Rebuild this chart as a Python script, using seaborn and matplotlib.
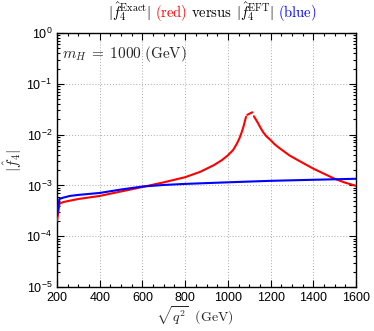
import matplotlib
matplotlib.use("Agg")
import matplotlib.pyplot as plt
import matplotlib.ticker as mticker
import numpy as np
import seaborn as sns

# EFT curve (blue)
eft_q = [200, 205, 211, 230, 260, 300, 400, 500, 600, 700, 800, 900,
         1000, 1100, 1200, 1300, 1400, 1500, 1600]
eft_f = [2.5e-4, 3.5e-4, 5.4e-4, 5.75e-4, 6.2e-4, 6.5e-4, 7.1e-4, 8.3e-4,
         9.5e-4, 1.02e-3, 1.07e-3, 1.11e-3, 1.15e-3, 1.19e-3, 1.23e-3,
         1.26e-3, 1.29e-3, 1.32e-3, 1.35e-3]

# exact curve (red), three pieces around the resonance
exact_q1 = [200, 205, 212, 230, 260, 300, 400, 500, 600, 700, 800, 872,
            934, 970, 1000, 1025, 1042, 1055, 1065, 1072, 1077, 1085]
exact_f1 = [2.0e-4, 2.8e-4, 4.4e-4, 4.7e-4, 5.0e-4, 5.4e-4, 6.2e-4, 7.6e-4,
            9.3e-4, 1.15e-3, 1.45e-3, 1.86e-3, 2.5e-3, 3.1e-3, 3.9e-3,
            5.0e-3, 6.6e-3, 8.6e-3, 1.12e-2, 1.38e-2, 1.66e-2, 2.24e-2]
exact_q2 = [1091, 1103, 1115]
exact_f2 = [2.45e-2, 2.6e-2, 2.75e-2]
exact_q3 = [1122, 1132, 1142, 1152, 1165, 1180, 1200, 1220, 1242, 1265,
            1288, 1330, 1400, 1450, 1500, 1550, 1600]
exact_f3 = [2.3e-2, 1.95e-2, 1.66e-2, 1.38e-2, 1.12e-2, 9.3e-3, 7.8e-3,
            6.4e-3, 5.4e-3, 4.6e-3, 3.9e-3, 3.1e-3, 2.14e-3, 1.7e-3,
            1.35e-3, 1.13e-3, 9.8e-4]

sns.set_style("ticks")
plt.rcParams["font.family"] = ["Liberation Sans", "DejaVu Sans"]
plt.rcParams["mathtext.fontset"] = "cm"

fig = plt.figure(figsize=(3.74, 3.31), dpi=100)
ax = fig.add_axes([57 / 374, 1 - 287 / 331, 299 / 374, 254 / 331])

red = "#ff0000"
blue = "#0000ff"
for q, f in [(exact_q1, exact_f1), (exact_q2, exact_f2), (exact_q3, exact_f3)]:
    sns.lineplot(x=q, y=f, ax=ax, color=red, linewidth=1.5, zorder=3)
sns.lineplot(x=eft_q, y=eft_f, ax=ax, color=blue, linewidth=1.5, zorder=4)

ax.set_yscale("log")
ax.set_xlim(200, 1600)
ax.set_ylim(1e-5, 1)
ax.xaxis.set_major_locator(mticker.MultipleLocator(200))
ax.xaxis.set_minor_locator(mticker.MultipleLocator(50))
ax.yaxis.set_major_locator(mticker.LogLocator(base=10, numticks=10))
ax.yaxis.set_minor_locator(mticker.LogLocator(base=10, subs=np.arange(2, 10), numticks=10))
ax.yaxis.set_minor_formatter(mticker.NullFormatter())
ax.yaxis.set_major_formatter(mticker.FuncFormatter(
    lambda v, p: r"$\mathregular{10^{%d}}$" % int(round(np.log10(v)))))
ax.tick_params(which="both", direction="in", top=True, right=True,
               labelsize=9, colors="black", width=0.8)
ax.tick_params(which="major", length=5)
ax.tick_params(which="minor", length=2.5)
ax.grid(True, which="major", linestyle=(0, (1, 2)), color="#aaaaaa", linewidth=0.7)
for s in ax.spines.values():
    s.set_linewidth(1.0)
    s.set_color("black")

ax.set_xlabel(r"$\sqrt{q^2}\ \ {\rm (GeV)}$", fontsize=10)
ax.xaxis.set_label_coords((195 - 57) / 299, -17 / 254)
ax.set_ylabel(r"$|\hat{f}_4|$", fontsize=11, labelpad=2)
ax.text(0.017, 0.955, r"$m_H\;=\;1000\;{\rm (GeV)}$", transform=ax.transAxes,
        fontsize=11, va="top", ha="left")

# coloured title built from pieces, with explicit gaps between them
pieces = [(r"$|\hat{f}_4^{\rm Exact}|$", "black"),
          (r"$\rm (red)$", red),
          (r"${\rm versus}$", "black"),
          (r"$|\hat{f}_4^{\rm EFT}|$", "black"),
          (r"$\rm (blue)$", blue)]
fig.canvas.draw()
renderer = fig.canvas.get_renderer()
x0 = 108 / 374
ybase = 1 - 17 / 331
gap = 4 / 374
for txt, col in pieces:
    t = fig.text(x0, ybase, txt, color=col, fontsize=10.5, va="baseline", ha="left")
    w = t.get_window_extent(renderer).width
    x0 += w / fig.bbox.width + gap

fig.savefig("out.png", dpi=100)
